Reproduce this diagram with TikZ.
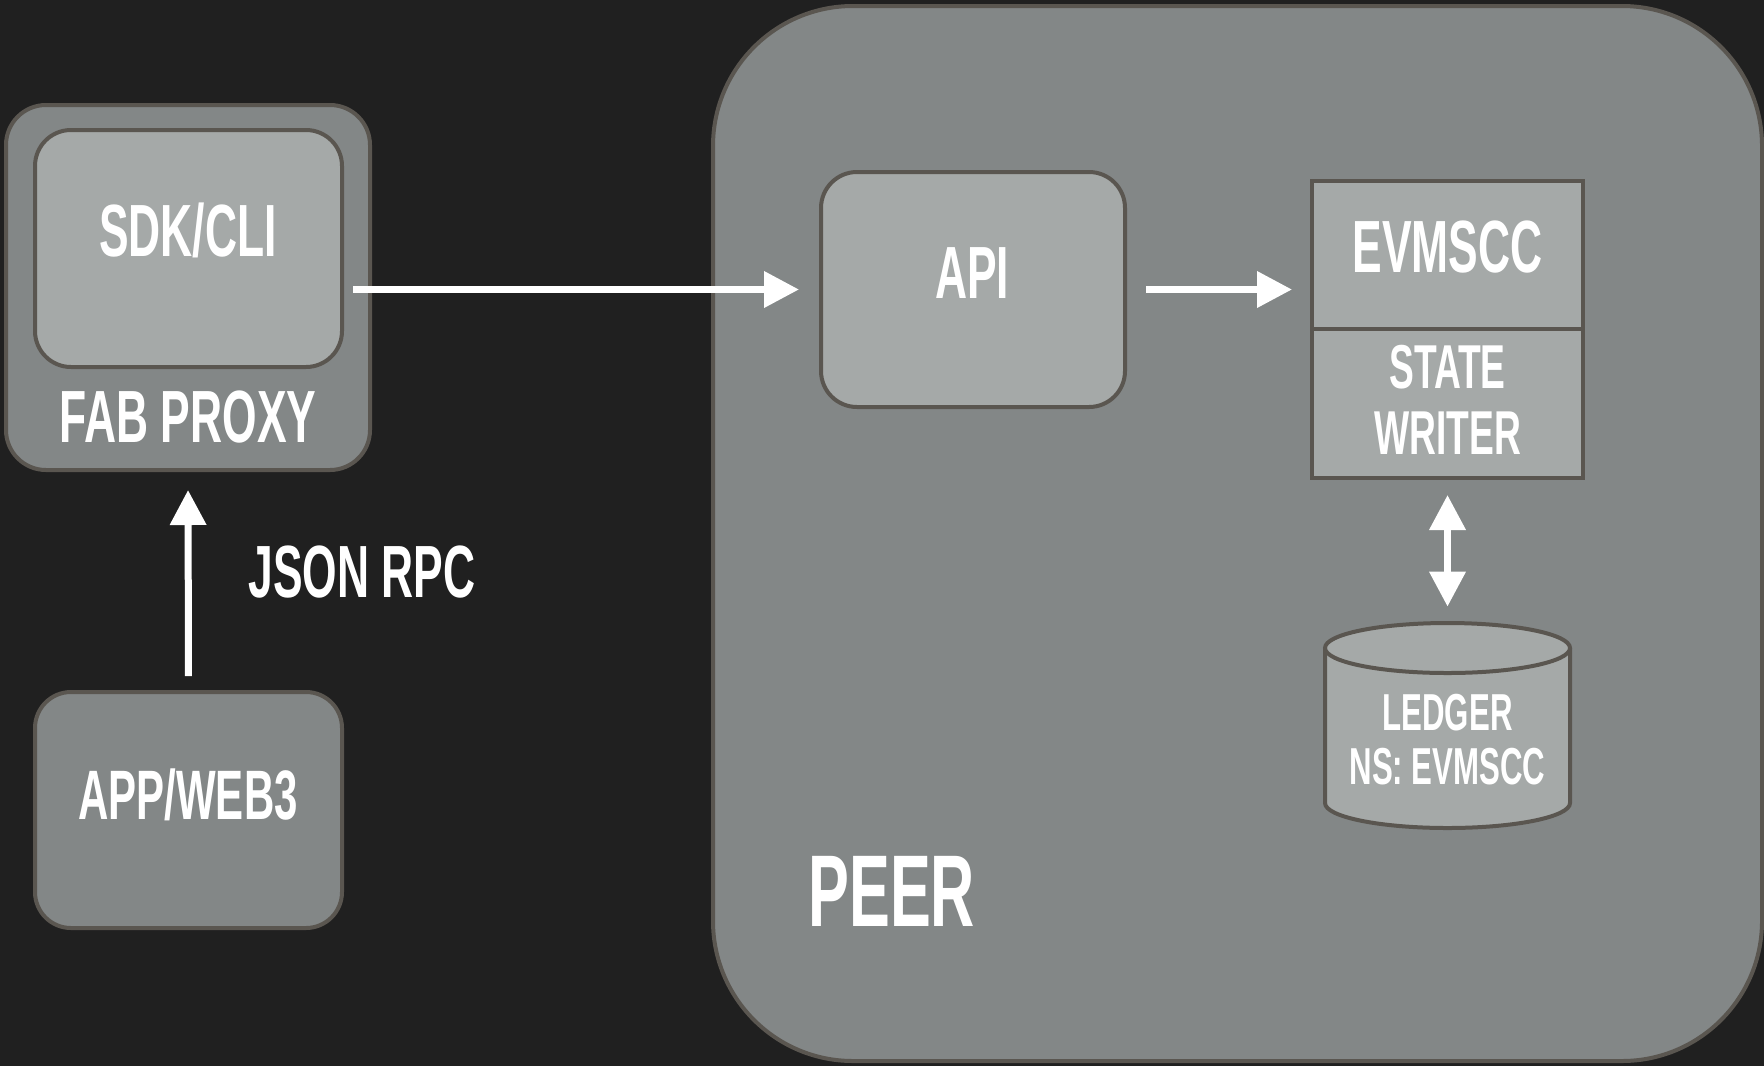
\documentclass[tikz,border=0pt]{standalone}
\usepackage{fontspec}
\setmainfont[FakeStretch=0.6]{Liberation Sans}
\usetikzlibrary{arrows.meta, fit}
\definecolor{bgdark}{HTML}{202020}
\definecolor{shellgray}{HTML}{838787}
\definecolor{boxlight}{HTML}{A5A9A8}
\definecolor{edgegray}{HTML}{5A5650}
\tikzset{
	shell/.style = {
		draw=edgegray,
		line width=2pt,
		fill=shellgray,
		inner sep=0pt
	},
	innerbox/.style = {
		draw=edgegray,
		line width=2pt,
		fill=boxlight,
		inner sep=0pt
	},
	boxtext/.style = {
		text=white,
		align=center,
		inner sep=0pt,
		font=\bfseries\fontsize{37}{40}\selectfont
	}
}
\tikzstyle{arrow} = [-{Triangle[width=17.5pt,length=17.5pt]}, line width=3.5pt, white]
\tikzstyle{biarrow} = [{Triangle[width=17.5pt,length=17.5pt]}-{Triangle[width=17.5pt,length=17.5pt]}, line width=3.5pt, white]

\begin{document}
\begin{tikzpicture}[x=0.5pt, y=-0.5pt]
		\fill[bgdark] (0,0) rectangle (1764,1066);
		\useasboundingbox (0,0) rectangle (1764,1066);

		% left side
		\node[shell, rounded corners=20pt, fit={(6,105) (370,470)}] (fab) {};
		\node[innerbox, rounded corners=18pt, fit={(35,130) (342,367)}] (sdk) {};
		\node[boxtext] (sdktext) at (188,230) {SDK/CLI};
		\node[boxtext] (fabtext) at (188,417) {FAB PROXY};
		\node[shell, rounded corners=18pt, fit={(35,692) (342,928)}] (app) {};
		\node[boxtext, font=\bfseries\fontsize{35}{38}\selectfont] (apptext) at (188,795) {APP/WEB3};
		\node[boxtext, anchor=west] (rpc) at (248,572) {JSON RPC};
		\draw[arrow, shorten <=7pt, shorten >=9pt] (app.north) -- (fab.south);

		% peer
		\node[shell, rounded corners=70pt, fit={(713,6) (1762,1061)}] (peer) {};
		\node[boxtext, anchor=west, font=\bfseries\fontsize{51}{54}\selectfont] (peertext) at (808,891) {PEER};
		\node[innerbox, rounded corners=18pt, fit={(821,172) (1125,407)}] (api) {};
		\node[boxtext] (apitext) at (972,273) {API};
		\node[innerbox, fit={(1312,181) (1583,329)}] (evm) {};
		\node[innerbox, fit={(1312,329) (1583,478)}] (writer) {};
		\node[boxtext] (evmtext) at (1447.5,247) {EVMSCC};
		\node[boxtext, font=\bfseries\fontsize{31}{33}\selectfont] (writertext) at (1447.5,400) {STATE\\WRITER};

		% ledger
		\node[inner sep=0pt, fit={(1325,623) (1570,828)}] (ledger) {};
		\filldraw[innerbox] (1325,648) -- (1325,803) arc[start angle=180, end angle=360, x radius=61.25pt, y radius=12.5pt] -- (1570,648);
		\filldraw[innerbox] (1447.5,648) ellipse[x radius=61.25pt, y radius=12.5pt];
		\node[boxtext, font=\bfseries\fontsize{26}{27}\selectfont] (ledgertext) at (1447.5,740) {LEDGER\\NS: EVMSCC};

		\draw[arrow, shorten <=4.5pt, shorten >=10pt] (sdk.east |- api.west) -- (api.west);
		\draw[arrow, shorten <=9.5pt, shorten >=9pt] (api.east) -- (api.east -| evm.west);
		\draw[biarrow, shorten <=7.5pt, shorten >=8pt] (writer.south) -- (ledger.north);
	\end{tikzpicture}
\end{document}
